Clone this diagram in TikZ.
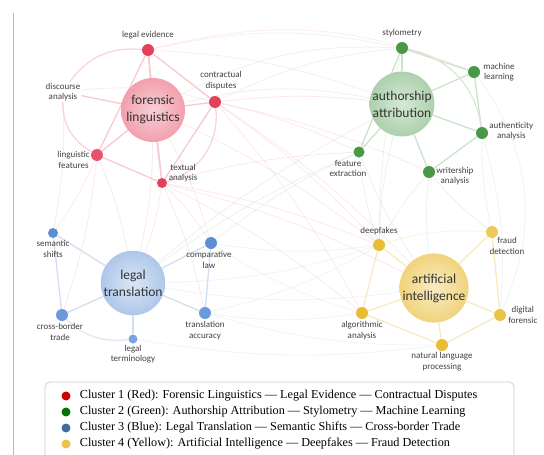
\documentclass[tikz,border=0pt]{standalone}
\usepackage{fontspec}
\setmainfont{Liberation Serif}
\newfontfamily\labelfont{Carlito}
\usetikzlibrary{positioning, backgrounds}

\definecolor{clred}{RGB}{228,64,90}
\definecolor{clgreen}{RGB}{72,152,72}
\definecolor{clblue}{RGB}{92,142,212}
\definecolor{clyellow}{RGB}{232,188,52}

\begin{document}
\begin{tikzpicture}[
        x=1pt, y=-1pt,
        hub/.style={
            circle,
            inner sep=0pt,
            minimum size=64pt,
            font=\labelfont\fontsize{13.5}{17}\selectfont,
            text=black!80,
            align=center
        },
        term/.style={circle, inner sep=0pt, minimum size=12pt},
        lbl/.style={font=\labelfont\fontsize{9}{10.5}\selectfont, text=black!75, align=center, inner sep=1pt},
        redhub/.style={inner color=clred!25, outer color=clred!50},
        greenhub/.style={inner color=clgreen!22, outer color=clgreen!45},
        bluehub/.style={inner color=clblue!22, outer color=clblue!50},
        yellowhub/.style={inner color=clyellow!30, outer color=clyellow!65},
        link/.style={line width=1.3pt},
        faint/.style={line width=0.8pt, opacity=0.4},
        legdot/.style={circle, inner sep=0pt, minimum size=9pt},
        legtxt/.style={font=\fontsize{12.2}{13}\selectfont, inner sep=1pt}
    ]
        \useasboundingbox (0,0) rectangle (544,455);

        % left rule
        \draw[gray!55, line width=1pt] (13,13) -- (13,460);

        % Cluster 1: forensic linguistics
        \node[hub, redhub] (forling) at (153,110) {forensic\\linguistics};
        \node[term, fill=clred] (legev) at (148,50) {};
        \node[lbl, above=4pt of legev] (legevl) {legal evidence};
        \node[term, fill=clred] (contr) at (215,102) {};
        \node[lbl, above=5pt of contr, xshift=6pt] (contrl) {contractual\\disputes};
        \node[lbl] (discan) at (63,92) {discourse\\analysis};
        \node[term, fill=clred!90] (lingf) at (97,155) {};
        \node[lbl, left=0pt of lingf, yshift=-5pt] (lingfl) {linguistic\\features};
        \node[term, minimum size=10pt, fill=clred] (textan) at (162,183) {};
        \node[lbl, above right=-4pt and 2pt of textan] (textanl) {textual\\analysis};

        % Cluster 2: authorship attribution
        \node[hub, greenhub] (auth) at (402,104) {authorship\\attribution};
        \node[term, fill=clgreen] (stylo) at (402,48) {};
        \node[lbl, above=4pt of stylo] (stylol) {stylometry};
        \node[term, fill=clgreen] (machl) at (474,72) {};
        \node[lbl, right=2pt of machl] (machll) {machine\\learning};
        \node[term, fill=clgreen] (authan) at (482,133) {};
        \node[lbl, right=0pt of authan, yshift=2pt] (authanl) {authenticity\\analysis};
        \node[term, minimum size=11pt, fill=clgreen] (featx) at (359,152) {};
        \node[lbl, below=1pt of featx, xshift=-11pt] (featxl) {feature\\extraction};
        \node[term, fill=clgreen] (writan) at (429,172) {};
        \node[lbl, right=0pt of writan, yshift=-4pt] (writanl) {writership\\analysis};

        % Cluster 3: legal translation
        \node[hub, bluehub] (legtr) at (133,283) {legal\\translation};
        \node[term, minimum size=10pt, fill=clblue] (semsh) at (53,233) {};
        \node[lbl, below=1pt of semsh] (semshl) {semantic\\shifts};
        \node[term, fill=clblue] (complaw) at (211,243) {};
        \node[lbl, below=1pt of complaw, xshift=-2pt] (complawl) {comparative\\law};
        \node[term, fill=clblue!90] (crossb) at (62,315) {};
        \node[lbl, below=1pt of crossb, xshift=-2pt] (crossbl) {cross-border\\trade};
        \node[term, minimum size=9pt, fill=clblue!80] (legterm) at (133,339) {};
        \node[lbl, below=0pt of legterm] (legterml) {legal\\terminology};
        \node[term, fill=clblue!90] (tracc) at (205,313) {};
        \node[lbl, below=1pt of tracc] (traccl) {translation\\accuracy};

        % Cluster 4: artificial intelligence
        \node[hub, yellowhub] (artint) at (434,288) {artificial\\intelligence};
        \node[term, fill=clyellow] (deepf) at (379,245) {};
        \node[lbl, above=3pt of deepf] (deepfl) {deepfakes};
        \node[term, fill=clyellow!80] (fraud) at (492,232) {};
        \node[lbl, below right=0pt and -8pt of fraud] (fraudl) {fraud\\detection};
        \node[term, fill=clyellow] (algan) at (362,313) {};
        \node[lbl, below=1pt of algan] (alganl) {algorithmic\\analysis};
        \node[term, fill=clyellow] (nlp) at (442,345) {};
        \node[lbl, below=0pt of nlp] (nlpl) {natural language\\processing};
        \node[term, fill=clyellow!90] (digf) at (500,315) {};
        \node[lbl, right=1pt of digf] (digfl) {digital\\forensic};

        \begin{pgfonlayer}{background}
            % links inside the clusters
            \foreach \a/\b in {forling/legev, forling/contr, forling/discan, forling/lingf, forling/textan,
                               legev/contr, lingf/textan, contr/textan, legev/textan, legev/lingf}
                \draw[link, clred!28] (\a) -- (\b);
            \draw[link, clred!22] (legev) to[bend right=30] (discan);
            \draw[link, clred!22] (discan) to[bend right=30] (lingf);
            \draw[link, clred!22] (contr) to[bend left=40] (textan);

            \foreach \a/\b in {auth/stylo, auth/machl, auth/authan, auth/featx, auth/writan,
                               stylo/machl, machl/authan, stylo/featx, authan/writan}
                \draw[link, clgreen!28] (\a) -- (\b);
            \draw[link, clgreen!20] (stylo) to[bend left=35] (authan);

            \foreach \a/\b in {legtr/semsh, legtr/complaw, legtr/crossb, legtr/legterm, legtr/tracc,
                               semsh/crossb, complaw/tracc}
                \draw[link, clblue!28] (\a) -- (\b);
            \draw[link, clblue!20] (crossb) to[bend right=25] (legterm);

            \foreach \a/\b in {artint/deepf, artint/fraud, artint/algan, artint/nlp, artint/digf,
                               deepf/algan, algan/nlp, nlp/digf, fraud/digf}
                \draw[link, clyellow!32] (\a) -- (\b);

            % links between the clusters
            \foreach \a/\b/\c in {contr/auth/clred, contr/featx/clred, contr/writan/clred, contr/deepf/clred,
                                  contr/algan/clred, contr/artint/clred, textan/featx/clred, textan/deepf/clred,
                                  textan/artint/clred, textan/algan/clred, textan/legtr/clred, textan/complaw/clred,
                                  textan/tracc/clred, forling/legtr/clred, forling/complaw/clred, forling/deepf/clred,
                                  lingf/legtr/clred, lingf/semsh/clred, lingf/crossb/clred, discan/semsh/clred}
                \draw[faint, \c!30] (\a) to[bend left=6] (\b);
            \foreach \a/\b/\c in {featx/deepf/clgreen, featx/artint/clgreen, writan/artint/clgreen,
                                  writan/deepf/clgreen, writan/fraud/clgreen, auth/deepf/clgreen,
                                  authan/fraud/clgreen, featx/legtr/clgreen, auth/legtr/clgreen,
                                  featx/complaw/clgreen, stylo/deepf/clgreen}
                \draw[faint, \c!30] (\a) to[bend right=6] (\b);
            \foreach \a/\b/\c in {complaw/deepf/clblue, complaw/algan/clblue, tracc/algan/clblue,
                                  tracc/nlp/clblue, legtr/deepf/clblue, legtr/artint/clblue,
                                  legterm/nlp/clblue, tracc/deepf/clblue}
                \draw[faint, \c!25] (\a) to[bend right=8] (\b);
            \draw[faint, gray!30] (forling) to[bend left=12] (auth);
            \draw[faint, gray!30] (forling) to[bend left=15] (stylo);
            \draw[faint, clred!25] (legev) to[bend left=12] (stylo);
            \draw[faint, clred!25] (legev) to[bend left=8] (auth);
            \draw[faint, clred!25] (legev) to[bend left=18] (machl);
            \draw[faint, gray!30] (contr) to[bend left=10] (stylo);
            \draw[faint, clgreen!25] (machl) to[bend left=30] (digf);
            \draw[faint, clgreen!25] (authan) to[bend left=10] (digf);
            \draw[faint, gray!30] (discan) to[bend left=10] (contr);
            \draw[faint, clyellow!40] (deepf) to[bend left=10] (fraud);
        \end{pgfonlayer}

        % legend
        \draw[rounded corners=5pt, draw=gray!40, line width=0.8pt] (45,382) rectangle (514,470);
        \node[legdot, fill=red!80!black] (leg1) at (66,396) {};
        \node[legtxt, right=8pt of leg1] (leg1t) {Cluster 1 (Red): Forensic Linguistics --- Legal Evidence --- Contractual Disputes};
        \node[legdot, fill=green!45!black] (leg2) at (66,412) {};
        \node[legtxt, right=8pt of leg2] (leg2t) {Cluster 2 (Green): Authorship Attribution --- Stylometry --- Machine Learning};
        \node[legdot, fill=clblue!75!black] (leg3) at (66,428) {};
        \node[legtxt, right=8pt of leg3] (leg3t) {Cluster 3 (Blue): Legal Translation --- Semantic Shifts --- Cross-border Trade};
        \node[legdot, fill=clyellow!90] (leg4) at (66,444) {};
        \node[legtxt, right=8pt of leg4] (leg4t) {Cluster 4 (Yellow): Artificial Intelligence --- Deepfakes --- Fraud Detection};
    \end{tikzpicture}
\end{document}
